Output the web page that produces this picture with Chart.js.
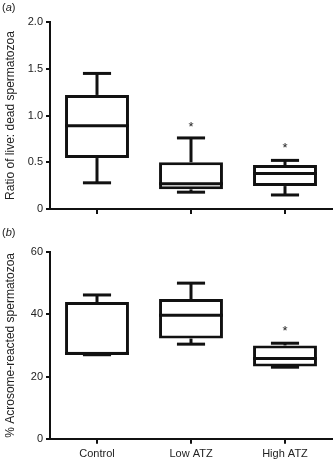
<!DOCTYPE html>
<html>
<head>
<meta charset="utf-8">
<script src="https://cdn.jsdelivr.net/npm/chart.js@4"></script>
<style>
  body { margin: 0; background: #fff; overflow: hidden; }
  #page { position: relative; width: 334px; height: 461px; overflow: hidden; font-family: 'Liberation Sans', Arial, sans-serif; }
  .panel { position: absolute; left: 0; width: 334px; }
  .tag { position: absolute; left: 2px; font-size: 11px; color: #222; }
</style>
</head>
<body>
<div id="page">
  <div class="panel" style="top:0;height:224px"><canvas id="chartA"></canvas></div>
  <div class="panel" style="top:224px;height:241px"><canvas id="chartB"></canvas></div>
  <div class="tag" style="top:1px">(<i>a</i>)</div>
  <div class="tag" style="top:226px">(<i>b</i>)</div>
</div>
<script>
const categories = ['Control', 'Low ATZ', 'High ATZ'];

// (a) ratio of live : dead spermatozoa
const ratioMin = [0.28, 0.18, 0.15];
const ratioQ1 = [0.545, 0.21, 0.245];
const ratioMedian = [0.89, 0.27, 0.38];
const ratioQ3 = [1.22, 0.50, 0.47];
const ratioMax = [1.45, 0.76, 0.52];
const ratioStar = [null, 0.90, 0.68];
const ratioTicks = [0, 0.5, 1.0, 1.5, 2.0];

// (b) % acrosome-reacted spermatozoa
const acroMin = [27, 30.4, 23];
const acroQ1 = [27, 32.2, 23.2];
const acroMedian = [27.4, 39.7, 25.8];
const acroQ3 = [43.9, 44.9, 30.0];
const acroMax = [46.2, 50.0, 30.7];
const acroStar = [null, null, 35.6];
const acroTicks = [0, 20, 40, 60];

const FONT = "'Liberation Sans', Arial, sans-serif";
const LW = 3;

const boxWhiskers = {
    id: 'boxWhiskers',
    afterDatasetsDraw(chart, args, opts) {
        const ctx = chart.ctx;
        const y = chart.scales.y;
        const meta = chart.getDatasetMeta(0);
        ctx.save();
        ctx.strokeStyle = '#111';
        ctx.lineWidth = LW;
        ctx.lineCap = 'butt';
        meta.data.forEach((bar, i) => {
            const cx = bar.x;
            const half = bar.width / 2;
            const cap = bar.width * 0.22;
            const line = (x1, y1, x2, y2) => {
                ctx.beginPath();
                ctx.moveTo(x1, y1);
                ctx.lineTo(x2, y2);
                ctx.stroke();
            };
            const q1 = y.getPixelForValue(opts.q1[i]);
            const q3 = y.getPixelForValue(opts.q3[i]);
            const lo = y.getPixelForValue(opts.min[i]);
            const hi = y.getPixelForValue(opts.max[i]);
            const med = y.getPixelForValue(opts.median[i]);
            line(cx, q3, cx, hi);
            line(cx - cap, hi, cx + cap, hi);
            line(cx, q1, cx, lo);
            line(cx - cap, lo, cx + cap, lo);
            line(cx - half, med, cx + half, med);
            if (opts.star[i] != null) {
                ctx.fillStyle = '#222';
                ctx.font = '13px ' + FONT;
                ctx.textAlign = 'center';
                ctx.textBaseline = 'middle';
                ctx.fillText('*', cx, y.getPixelForValue(opts.star[i]) + 3);
            }
        });
        ctx.restore();
    }
};

function makeBoxChart(canvas, cfg) {
    return new Chart(canvas, {
        type: 'bar',
        data: {
            labels: categories,
            datasets: [{
                data: cfg.q1.map((v, i) => [v, cfg.q3[i]]),
                backgroundColor: '#fff',
                borderColor: '#111',
                borderWidth: LW,
                borderSkipped: false,
                barPercentage: 0.68,
                categoryPercentage: 1
            }]
        },
        options: {
            responsive: true,
            maintainAspectRatio: false,
            animation: false,
            layout: { padding: cfg.padding },
            plugins: {
                legend: { display: false },
                tooltip: { enabled: false },
                boxWhiskers: cfg
            },
            scales: {
                x: {
                    offset: true,
                    border: { color: '#111', width: 2 },
                    grid: { display: true, drawOnChartArea: false, offset: false, color: '#111', lineWidth: 2, tickLength: 5 },
                    ticks: { display: cfg.showLabels, color: '#222', font: { family: FONT, size: 11 }, padding: 4, maxRotation: 0 }
                },
                y: {
                    min: cfg.ticks[0],
                    max: cfg.ticks[cfg.ticks.length - 1],
                    afterFit: s => { s.width = 50; },
                    afterBuildTicks: s => { s.ticks = cfg.ticks.map(v => ({ value: v })); },
                    border: { color: '#111', width: 2 },
                    grid: { display: true, drawOnChartArea: false, color: '#111', lineWidth: 2, tickLength: 4 },
                    ticks: {
                        color: '#222',
                        font: { family: FONT, size: 11 },
                        padding: 3,
                        callback: cfg.format
                    },
                    title: {
                        display: true,
                        text: cfg.title,
                        color: '#222',
                        font: { family: FONT, size: 12 },
                        padding: { top: 3, bottom: 0 }
                    }
                }
            }
        },
        plugins: [boxWhiskers]
    });
}

makeBoxChart(document.getElementById('chartA'), {
    min: ratioMin, q1: ratioQ1, median: ratioMedian, q3: ratioQ3, max: ratioMax, star: ratioStar,
    ticks: ratioTicks,
    format: v => v === 0 ? '0' : Number(v).toFixed(1),
    title: 'Ratio of live: dead spermatozoa',
    showLabels: false,
    padding: { top: 22, right: 2, bottom: 10, left: 0 }
});

makeBoxChart(document.getElementById('chartB'), {
    min: acroMin, q1: acroQ1, median: acroMedian, q3: acroQ3, max: acroMax, star: acroStar,
    ticks: acroTicks,
    format: v => String(v),
    title: '% Acrosome-reacted spermatozoa',
    showLabels: true,
    padding: { top: 28, right: 2, bottom: 0, left: 0 }
});
</script>
</body>
</html>
